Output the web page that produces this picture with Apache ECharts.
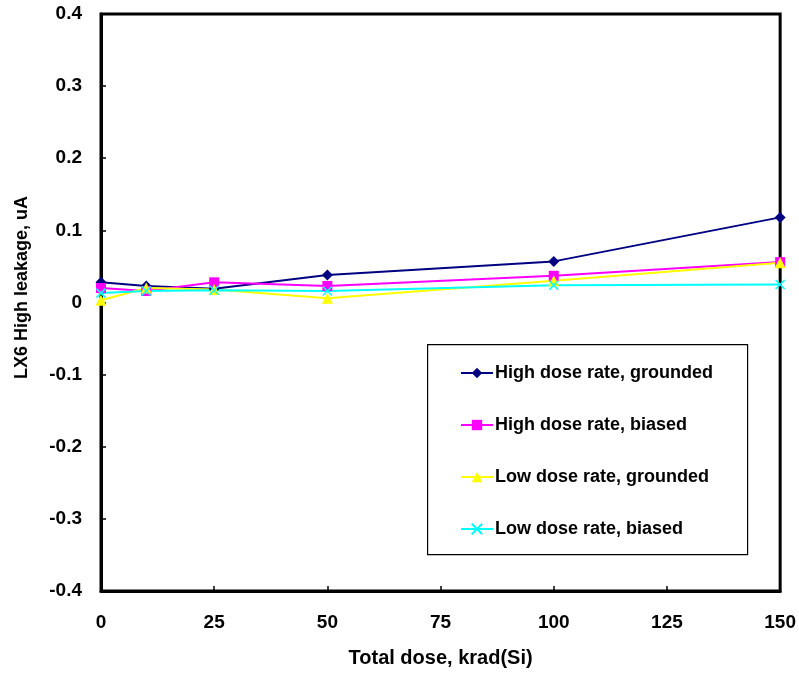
<!DOCTYPE html>
<html>
<head>
<meta charset="utf-8">
<script src="https://cdn.jsdelivr.net/npm/echarts@6/dist/echarts.min.js"></script>
<style>html,body{margin:0;padding:0;background:#fff}#c{width:799px;height:673px}</style>
</head>
<body>
<div id="c"></div>
<script>
const doses = [0, 10, 25, 50, 100, 150];
const highGrounded = [0.028, 0.023, 0.019, 0.038, 0.057, 0.118];
const highBiased = [0.020, 0.016, 0.028, 0.023, 0.037, 0.056];
const lowGrounded = [0.003, 0.020, 0.018, 0.006, 0.030, 0.055];
const lowBiased = [0.013, 0.016, 0.017, 0.016, 0.024, 0.025];
const seriesNames = ['High dose rate, grounded', 'High dose rate, biased', 'Low dose rate, grounded', 'Low dose rate, biased'];
const xTitle = 'Total dose, krad(Si)';
const yTitle = 'LX6 High leakage, uA';

const font = '"Liberation Sans", Arial, sans-serif';
function pts(arr){ return doses.map((d,i)=>[d, arr[i]]); }
const crossPath = 'path://M0,0L10,10M10,0L0,10';

const chart = echarts.init(document.getElementById('c'), null, {renderer:'canvas'});
chart.setOption({
  animation: false,
  backgroundColor: '#fff',
  grid: {left: 101, right: 18, top: 14, bottom: 81, show: true, borderColor: '#000', borderWidth: 3, backgroundColor: 'transparent'},
  xAxis: {
    type: 'value', min: 0, max: 150, interval: 25,
    name: xTitle, nameLocation: 'middle', nameGap: 57,
    nameTextStyle: {fontFamily: font, fontWeight: 'bold', fontSize: 20, color: '#000'},
    axisLine: {show: true, onZero: false, lineStyle: {color: '#000', width: 3}},
    axisTick: {show: true, inside: true, length: 5, lineStyle: {color: '#000', width: 1.5}},
    axisLabel: {fontFamily: font, fontWeight: 'bold', fontSize: 19, color: '#000', margin: 22},
    splitLine: {show: false}
  },
  yAxis: {
    type: 'value', min: -0.4, max: 0.4, interval: 0.1,
    name: yTitle, nameLocation: 'middle', nameGap: 70, nameRotate: 90,
    nameTextStyle: {fontFamily: font, fontWeight: 'bold', fontSize: 18, color: '#000', padding: [0,0,0,30]},
    axisLine: {show: true, onZero: false, lineStyle: {color: '#000', width: 3}},
    axisTick: {show: true, inside: true, length: 5, lineStyle: {color: '#000', width: 1.5}},
    axisLabel: {fontFamily: font, fontWeight: 'bold', fontSize: 19, color: '#000', margin: 19,
      formatter: v => { const r = Math.round(v*10)/10; return r === 0 ? '0' : r.toFixed(1); }},
    splitLine: {show: false}
  },
  graphic: [{type: 'rect', left: 427, top: 344, shape: {width: 320, height: 210}, style: {fill: '#fff', stroke: '#000', lineWidth: 1.2}, z: 5}],
  legend: {
    orient: 'vertical', left: 460, top: 364, itemWidth: 32, itemHeight: 13, itemGap: 34, padding: 0,
    textStyle: {fontFamily: font, fontWeight: 'bold', fontSize: 18, color: '#000', padding: [0,0,0,-3]},
    z: 10,
    data: seriesNames
  },
  series: [
    {name: seriesNames[0], type: 'line', data: pts(highGrounded), symbol: 'diamond', symbolSize: 11,
      lineStyle: {color: '#000080', width: 2}, itemStyle: {color: '#000080'}},
    {name: seriesNames[1], type: 'line', data: pts(highBiased), symbol: 'rect', symbolSize: 10,
      lineStyle: {color: '#FF00FF', width: 2}, itemStyle: {color: '#FF00FF'}},
    {name: seriesNames[2], type: 'line', data: pts(lowGrounded), symbol: 'triangle', symbolSize: 11,
      lineStyle: {color: '#FFFF00', width: 2}, itemStyle: {color: '#FFFF00'}},
    {name: seriesNames[3], type: 'line', data: pts(lowBiased), symbol: crossPath, symbolSize: 9,
      lineStyle: {color: '#00FFFF', width: 2}, itemStyle: {color: '#00FFFF', borderColor: '#00FFFF', borderWidth: 1.5}}
  ]
});
</script>
</body>
</html>
